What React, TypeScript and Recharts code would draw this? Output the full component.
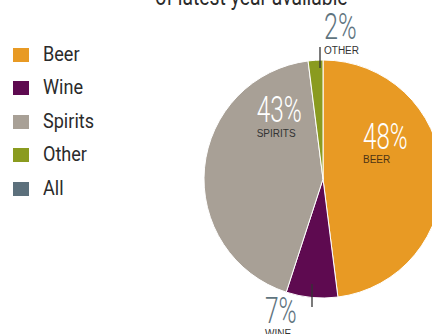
import React from "react";
import { PieChart, Pie, Cell } from "recharts";

const categories = ["Beer", "Wine", "Spirits", "Other"];
const shares = [48, 7, 43, 2];
const sliceColors = ["#E89A24", "#5E0A50", "#A8A096", "#8A9B1F"];
const legendNames = ["Beer", "Wine", "Spirits", "Other", "All"];
const legendColors = ["#E89A24", "#5E0A50", "#A8A096", "#8A9B1F", "#5C707C"];
const titleText = "of latest year available";

const data = categories.map((c, i) => ({ name: c, value: shares[i] }));

// label placement relative to pie center (styling/layout only)
const labelSpec = [
  { px: 40, py: -29.7, w: 44.6, cy: -16, inside: true },
  { px: -58, py: 144, w: 31.7, cy: 158, inside: false, line: [-11, 105, -11, 128] },
  { px: -66.3, py: -56.7, w: 45, cy: -41.7, inside: true },
  { px: 1, py: -139.7, w: 32.7, cy: -125, inside: false, line: [-3, -132, -3, -111] },
];

const renderLabel = (props: any) => {
  const { cx, cy, index } = props;
  const s = labelSpec[index];
  const catColor = index === 0 ? "#4d3414" : "#333";
  const pctColor = s.inside ? "#ffffff" : "#5F7480";
  return (
    <g>
      {s.line && (
        <line
          x1={cx + s.line[0]}
          y1={cy + s.line[1]}
          x2={cx + s.line[2]}
          y2={cy + s.line[3]}
          stroke="#333"
          strokeWidth={1.3}
        />
      )}
      <text
        x={cx + s.px}
        y={cy + s.py}
        fill={pctColor}
        fontFamily="Roboto, sans-serif"
        fontWeight={300}
        fontSize={37}
        textAnchor="start"
        textLength={s.w}
        lengthAdjust="spacingAndGlyphs"
      >
        {shares[index]}%
      </text>
      <text
        x={cx + s.px}
        y={cy + s.cy}
        fill={catColor}
        fontFamily="'Liberation Sans', Arial, sans-serif"
        fontSize={10}
        textAnchor="start"
      >
        {categories[index].toUpperCase()}
      </text>
    </g>
  );
};

const LegendBlock = () => (
  <div style={{ position: "absolute", left: 0, top: 38, width: 130 }}>
    {legendNames.map((n, i) => (
      <div key={n} style={{ height: 33.4, position: "relative" }}>
        <div
          style={{
            position: "absolute",
            left: 13,
            top: 10,
            width: 16,
            height: 14,
            background: legendColors[i],
          }}
        />
        <span
          style={{
            position: "absolute",
            left: 43,
            top: 4,
            fontFamily: "Roboto, sans-serif",
            fontSize: 21,
            color: "#2b2b2b",
            lineHeight: "24px",
            whiteSpace: "nowrap",
            transform: "scaleX(0.86)",
            transformOrigin: "left center",
          }}
        >
          {n}
        </span>
      </div>
    ))}
  </div>
);

export default function App() {
  return (
    <div style={{ position: "absolute", left: 0, top: 0, width: 432, height: 334, overflow: "hidden", background: "#fff" }}>
      <div
        style={{
          position: "absolute",
          left: 0,
          width: 502,
          top: -14.5,
          textAlign: "center",
          fontFamily: "Roboto, sans-serif",
          fontSize: 23,
          lineHeight: "23px",
          color: "#2b2b2b",
          whiteSpace: "nowrap",
        }}
      >
        <span style={{ display: "inline-block", transform: "scaleX(0.84)", transformOrigin: "center" }}>
          {titleText}
        </span>
      </div>
      <LegendBlock />
      <PieChart
        width={432}
        height={334}
        margin={{ top: 0, right: 0, bottom: 0, left: 0 }}
        style={{ position: "absolute", left: 0, top: 0 }}
      >
        <Pie
          data={data}
          dataKey="value"
          nameKey="name"
          cx={323}
          cy={179}
          outerRadius={119}
          startAngle={90}
          endAngle={-270}
          stroke="#ffffff"
          strokeWidth={1}
          isAnimationActive={false}
          labelLine={false}
          label={renderLabel}
        >
          {data.map((d, i) => (
            <Cell key={d.name} fill={sliceColors[i]} />
          ))}
        </Pie>
      </PieChart>
    </div>
  );
}
